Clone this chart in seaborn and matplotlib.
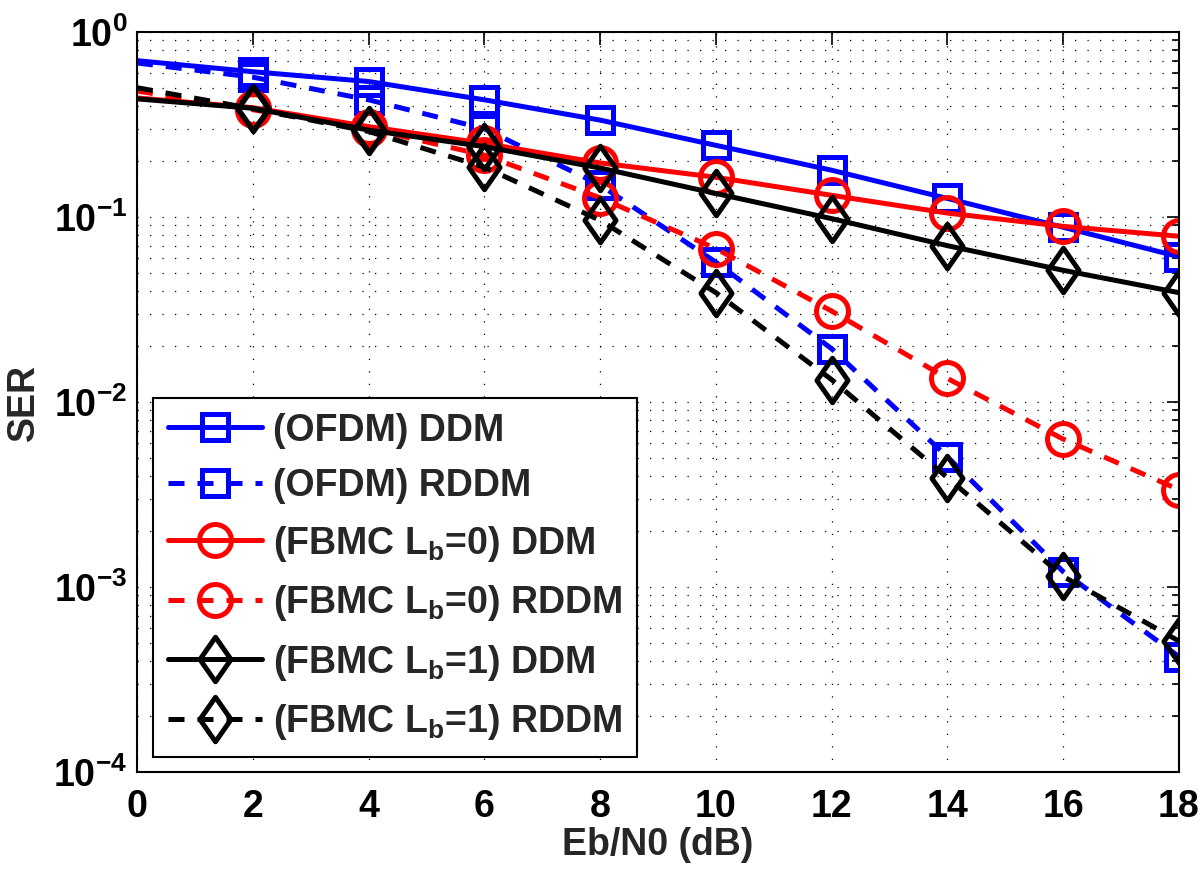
import numpy as np
import pandas as pd
import matplotlib
matplotlib.use("Agg")
import matplotlib.pyplot as plt
from matplotlib.path import Path
from matplotlib.ticker import FuncFormatter, LogLocator, NullFormatter
import seaborn as sns

# ---------------- data ----------------
ebn0 = [0, 2, 4, 6, 8, 10, 12, 14, 16, 18]
ofdm_ddm = [0.70, 0.61, 0.54, 0.43, 0.334, 0.244, 0.179, 0.126, 0.088, 0.061]
ofdm_rddm = [0.68, 0.57, 0.43, 0.30, 0.149, 0.057, 0.0194, 0.00505, 0.00121, 0.00042]
fbmc0_ddm = [0.44, 0.39, 0.308, 0.25, 0.196, 0.164, 0.131, 0.105, 0.089, 0.0787]
fbmc0_rddm = [0.48, 0.38, 0.30, 0.216, 0.127, 0.0675, 0.031, 0.0134, 0.0063, 0.00336]
fbmc1_ddm = [0.435, 0.387, 0.295, 0.24, 0.184, 0.134, 0.098, 0.070, 0.0515, 0.039]
fbmc1_rddm = [0.50, 0.385, 0.29, 0.186, 0.096, 0.039, 0.0132, 0.0039, 0.00114, 0.00051]

labels = [
    "(OFDM) DDM",
    "(OFDM) RDDM",
    r"(FBMC L$_\mathbf{b}$=0) DDM",
    r"(FBMC L$_\mathbf{b}$=0) RDDM",
    r"(FBMC L$_\mathbf{b}$=1) DDM",
    r"(FBMC L$_\mathbf{b}$=1) RDDM",
]
series = [ofdm_ddm, ofdm_rddm, fbmc0_ddm, fbmc0_rddm, fbmc1_ddm, fbmc1_rddm]
xticks = [0, 2, 4, 6, 8, 10, 12, 14, 16, 18]

frames = []
for lab, vals in zip(labels, series):
    frames.append(pd.DataFrame({"x": ebn0, "SER": vals, "series": lab}))
df = pd.concat(frames, ignore_index=True)

# ---------------- style ----------------
sns.set_style("white")
plt.rcParams["font.family"] = ["Liberation Sans", "DejaVu Sans"]
plt.rcParams["font.weight"] = "bold"
plt.rcParams["mathtext.fontset"] = "custom"
plt.rcParams["mathtext.bf"] = "Liberation Sans:bold"
plt.rcParams["mathtext.rm"] = "Liberation Sans:bold"
plt.rcParams["mathtext.it"] = "Liberation Sans:bold"
plt.rcParams["mathtext.default"] = "bf"

FS_TICK = 27
FS_LAB = 27
FS_LEG = 27

fig = plt.figure(figsize=(12, 8.71), dpi=100)
ax = fig.add_axes([137 / 1200, 99 / 871, (1179 - 137) / 1200, (772 - 32) / 871])

diamond = Path([(0, 1), (0.7, 0), (0, -1), (-0.7, 0), (0, 1)],
               [Path.MOVETO, Path.LINETO, Path.LINETO, Path.LINETO, Path.CLOSEPOLY])

dash = (0, (3.2, 2.6))
styles = [
    dict(color="#0000ff", linestyle="-", marker="s", markersize=19),
    dict(color="#0000ff", linestyle=dash, marker="s", markersize=19),
    dict(color="#ff0000", linestyle="-", marker="o", markersize=23),
    dict(color="#ff0000", linestyle=dash, marker="o", markersize=23),
    dict(color="#000000", linestyle="-", marker=diamond, markersize=32),
    dict(color="#000000", linestyle=dash, marker=diamond, markersize=32),
]

for lab, st in zip(labels, styles):
    sub = df[df["series"] == lab]
    sns.lineplot(data=sub, x="x", y="SER", ax=ax, label=lab,
                 color=st["color"], linestyle=st["linestyle"], marker=st["marker"],
                 markersize=st["markersize"], markerfacecolor="none",
                 markeredgecolor=st["color"], markeredgewidth=3.6,
                 linewidth=3.6, markevery=slice(1, None), errorbar=None,
                 estimator=None, sort=False, dash_capstyle="butt")

ax.set_yscale("log")
ax.set_xlim(0, 18)
ax.set_ylim(1e-4, 1)
ax.set_xticks(xticks)
ax.set_xticklabels([str(t) for t in xticks])
ax.yaxis.set_major_locator(LogLocator(base=10, numticks=10))
ax.yaxis.set_minor_locator(LogLocator(base=10, subs=np.arange(2, 10), numticks=20))
ax.yaxis.set_minor_formatter(NullFormatter())
ax.yaxis.set_major_formatter(FuncFormatter(
    lambda v, p: r"$\mathbf{10^{%d}}$" % int(round(np.log10(v)))))

ax.tick_params(axis="both", which="both", direction="in", top=True, right=True,
               labelsize=FS_TICK, width=1.2, colors="black")
ax.tick_params(axis="both", which="major", length=9)
ax.tick_params(axis="x", which="major", pad=12)
ax.tick_params(axis="y", which="major", pad=7)
ax.tick_params(axis="y", which="minor", length=5)
ax.tick_params(axis="x", which="minor", length=0)
for lbl in ax.get_xticklabels() + ax.get_yticklabels():
    lbl.set_fontweight("bold")

grid_ls = (0, (1, 9))
ax.grid(True, which="major", axis="both", color="black", linestyle=grid_ls, linewidth=0.9)
ax.grid(True, which="minor", axis="y", color="black", linestyle=grid_ls, linewidth=0.9)
ax.set_axisbelow(True)

for sp in ax.spines.values():
    sp.set_visible(True)
    sp.set_color("black")
    sp.set_linewidth(1.5)

ax.set_xlabel("Eb/N0 (dB)", fontsize=FS_LAB, fontweight="bold", labelpad=2)
ax.set_ylabel("SER", fontsize=FS_LAB, fontweight="bold", labelpad=8)

leg = ax.legend(loc="lower left", bbox_to_anchor=(16 / 1042, 15 / 740),
                fontsize=FS_LEG, frameon=True, fancybox=False, framealpha=1,
                edgecolor="black", handlelength=2.5, handletextpad=0.3,
                labelspacing=0.52, borderpad=0.4, borderaxespad=0)
leg.get_frame().set_linewidth(1.5)
for t in leg.get_texts():
    t.set_fontweight("bold")

fig.savefig("out.png", dpi=100, facecolor="white")
